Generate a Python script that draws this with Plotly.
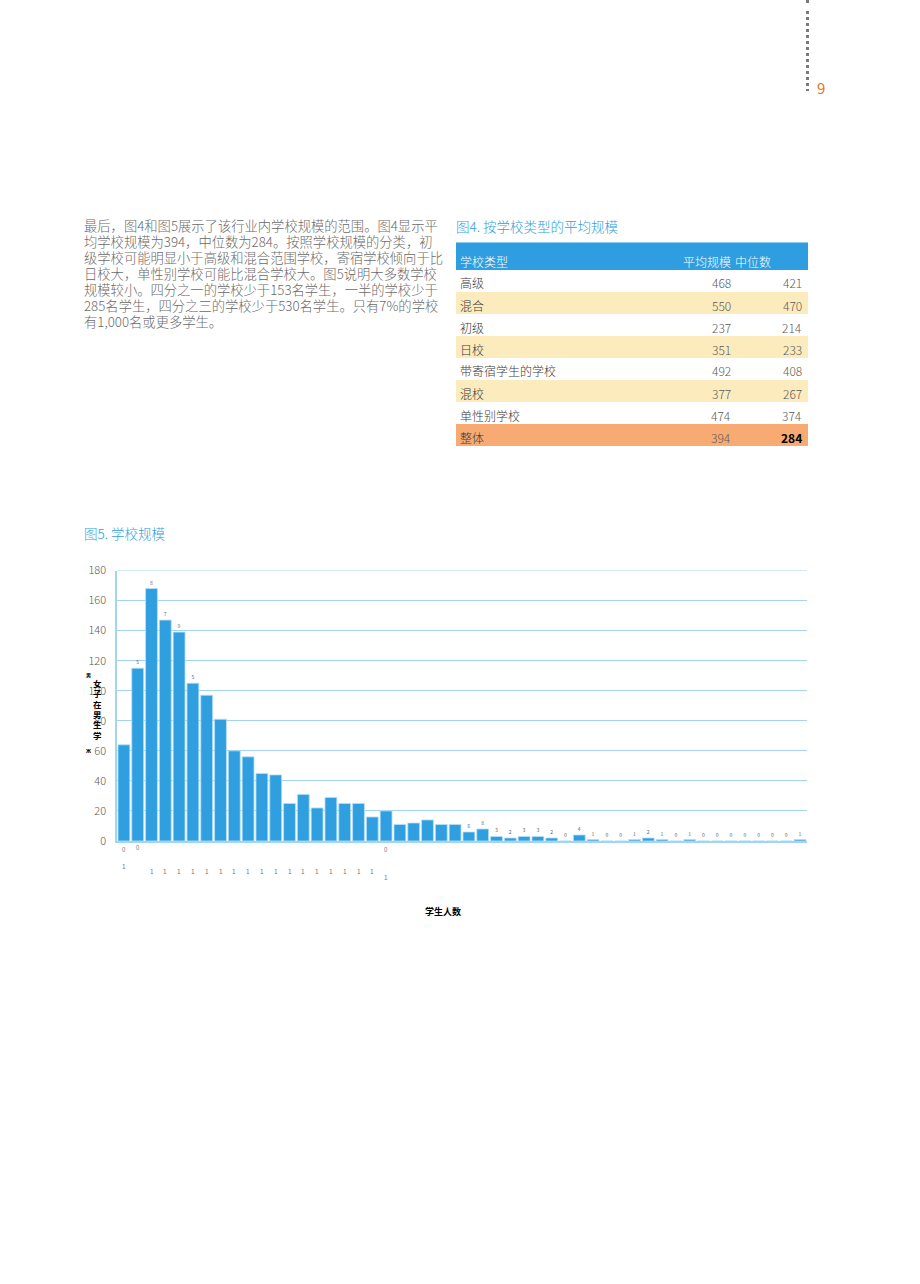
import plotly.graph_objects as go

W, H = 920, 1284

# ---------------- data ----------------
paragraph_lines = [
    "最后，图4和图5展示了该行业内学校规模的范围。图4显示平",
    "均学校规模为394，中位数为284。按照学校规模的分类，初",
    "级学校可能明显小于高级和混合范围学校，寄宿学校倾向于比",
    "日校大，单性别学校可能比混合学校大。图5说明大多数学校",
    "规模较小。四分之一的学校少于153名学生，一半的学校少于",
    "285名学生，四分之三的学校少于530名学生。只有7%的学校",
    "有1,000名或更多学生。",
]
page_number = "9"

table_title = "图4. 按学校类型的平均规模"
table_headers = ["学校类型", "平均规模", "中位数"]
school_types = ["高级", "混合", "初级", "日校", "带寄宿学生的学校", "混校", "单性别学校", "整体"]
avg_size = [468, 550, 237, 351, 492, 377, 474, 394]
median_size = [421, 470, 214, 233, 408, 267, 374, 284]
row_kinds = ["plain", "band", "plain", "band", "plain", "band", "plain", "total"]

chart_title = "图5. 学校规模"
x_title = "学生人数"
y_title_glyphs = ["女", "子", "在", "男", "生", "学"]
y_title_top = "男"
y_title_bottom = "ж"
size_bins = [f"{i * 50}-{i * 50 + 49}" for i in range(50)]
school_counts = [64, 115, 168, 147, 139, 105, 97, 81, 60, 56,
                 45, 44, 25, 31, 22, 29, 25, 25, 16, 20,
                 11, 12, 14, 11, 11, 6, 8, 3, 2, 3,
                 3, 2, 0, 4, 1, 0, 0, 1, 2, 1,
                 0, 1, 0, 0, 0, 0, 0, 0, 0, 1]
bar_marks = (["", "5", "8", "7", "9", "5"] + [""] * 19 +
             ["6", "8", "3", "2", "3", "3", "2", "0", "4", "1",
              "0", "0", "1", "2", "1", "0", "1", "0", "0", "0",
              "0", "0", "0", "0", "1"])
tick_row_a = ["0", "0"] + [""] * 17 + ["0"] + [""] * 30
tick_row_b = ["1", ""] + ["1"] * 17 + ["1"] + [""] * 30
y_ticks = [0, 20, 40, 60, 80, 100, 120, 140, 160, 180]

# ---------------- styles ----------------
FONT = "Noto Sans CJK SC"
BLUE = "#2e9ee0"
BAR = "#2f9fe0"
GRID = "#a3d5f3"
TEXT = "#555555"
YELLOW = "#fcebbd"
ORANGE = "#f7aa72"


def px(x):
    return x / W


def py(y):
    return 1 - y / H


annotations = []
shapes = []


def add_text(text, x, y, size, color=TEXT, xanchor="left", weight=300):
    f = dict(family=FONT, size=size, color=color, weight=weight)
    annotations.append(dict(text=text, x=px(x), y=py(y),
                            xref="paper", yref="paper", xanchor=xanchor, yanchor="middle",
                            showarrow=False, font=f, borderpad=0))


# paragraph
for i, line in enumerate(paragraph_lines):
    add_text(line, 83, 226 + 16 * i, 13.3, color="#6a6a6a")

# page number & dotted rule
add_text(page_number, 816, 87, 15, color="#e8741a", weight=400)
shapes.append(dict(type="line", xref="paper", yref="paper", x0=px(807.5), x1=px(807.5),
                   y0=py(11), y1=py(91), line=dict(color="#7a7a7a", width=3, dash="3px,3px")))
shapes.append(dict(type="rect", xref="paper", yref="paper", x0=px(806), x1=px(809),
                   y0=py(0), y1=py(3), fillcolor="#7a7a7a", line=dict(width=0)))

# table
add_text(table_title, 455, 226, 13.5, color=BLUE)
shapes.append(dict(type="rect", xref="paper", yref="paper", x0=px(456), x1=px(808),
                   y0=py(270), y1=py(242), fillcolor=BLUE, line=dict(width=0), layer="below"))
shapes.append(dict(type="line", xref="paper", yref="paper", x0=px(456), x1=px(808),
                   y0=py(242.5), y1=py(242.5), line=dict(color="#8ccbef", width=1)))
add_text(table_headers[0], 459, 261, 12, color="#ffffff")
add_text(table_headers[1], 732, 261, 12, color="#ffffff", xanchor="right")
add_text(table_headers[2], 734, 261, 12, color="#ffffff")
for i, (name, a, m, kind) in enumerate(zip(school_types, avg_size, median_size, row_kinds)):
    top = 270 + 22 * i
    if kind != "plain":
        shapes.append(dict(type="rect", xref="paper", yref="paper", x0=px(456), x1=px(808),
                           y0=py(top + 22), y1=py(top), fillcolor=YELLOW if kind == "band" else ORANGE,
                           line=dict(width=0), layer="below"))
    cy = top + 13
    add_text(name, 459, cy, 12, color="#3a3a3a")
    add_text(str(a), 732, cy, 12, color="#5a5a5a", xanchor="right")
    if kind == "total":
        add_text(str(m), 803, cy, 12, color="#000000", xanchor="right", weight="bold")
    else:
        add_text(str(m), 803, cy, 12, color="#5a5a5a", xanchor="right")

# chart titles
add_text(chart_title, 83, 533, 13.5, color=BLUE)
annotations.append(dict(text=x_title, x=px(443), y=py(911), xref="paper", yref="paper",
                        xanchor="center", yanchor="middle", showarrow=False,
                        font=dict(family=FONT, size=9, color="#000000", weight="bold")))
for i, g in enumerate(y_title_glyphs):
    annotations.append(dict(text=g, x=px(97), y=py(683 + 10.3 * i), xref="paper", yref="paper",
                            xanchor="center", yanchor="middle", showarrow=False,
                            font=dict(family=FONT, size=8.5, color="#000000", weight="bold")))
annotations.append(dict(text=y_title_top, x=px(88.5), y=py(675), xref="paper", yref="paper",
                        xanchor="center", yanchor="middle", showarrow=False,
                        font=dict(family=FONT, size=5, color="#000000", weight="bold")))
annotations.append(dict(text=y_title_bottom, x=px(88.5), y=py(750), xref="paper", yref="paper",
                        xanchor="center", yanchor="middle", showarrow=False,
                        font=dict(family=FONT, size=6, color="#000000", weight="bold")))

# garbled tick glyphs under the axis
for i, (cat, a, b) in enumerate(zip(size_bins, tick_row_a, tick_row_b)):
    if a:
        annotations.append(dict(text=a, x=cat, xref="x", y=py(849 if i != 1 else 847), yref="paper",
                                showarrow=False, xanchor="center", yanchor="middle",
                                font=dict(family=FONT, size=6, color="#777777")))
    if b:
        yy = 866 if i == 0 else (877 if i == 19 else 871)
        annotations.append(dict(text=b, x=cat, xref="x", y=py(yy), yref="paper",
                                showarrow=False, xanchor="center", yanchor="middle",
                                font=dict(family=FONT, size=6.5, color="#777777")))

# top gridline at the range end (plotly drops the edge grid line)
shapes.append(dict(type="line", xref="paper", yref="y", x0=px(117), x1=px(807),
                   y0=y_ticks[-1], y1=y_ticks[-1], line=dict(color=GRID, width=1)))

fig = go.Figure(go.Bar(
    x=size_bins, y=school_counts,
    marker=dict(color=BAR, line=dict(color="#b9e0f8", width=0.8)),
    text=bar_marks, textposition="outside", cliponaxis=False,
    textfont=dict(family=FONT, size=5, color="#666666"),
    hoverinfo="x+y",
))

fig.update_layout(
    width=W, height=H,
    margin=dict(l=0, r=0, t=0, b=0, pad=0, autoexpand=False),
    paper_bgcolor="#ffffff", plot_bgcolor="#ffffff",
    showlegend=False, bargap=0.14,
    font=dict(family=FONT),
    xaxis=dict(domain=[px(117), px(807)], type="category", showticklabels=False,
               showgrid=False, ticks="", showline=True, linecolor=GRID, linewidth=1.5,
               fixedrange=True, automargin=False),
    yaxis=dict(domain=[py(841), py(570.5)], range=[0, 180], tickvals=y_ticks,
               showgrid=True, gridcolor=GRID, gridwidth=1, zeroline=False,
               showline=True, linecolor=GRID, linewidth=1.5, ticks="",
               ticklabelstandoff=7, automargin=False,
               tickfont=dict(family=FONT, size=11, color="#595959", weight=300), fixedrange=True),
    annotations=annotations,
    shapes=shapes,
)

fig.write_html("out.html")
